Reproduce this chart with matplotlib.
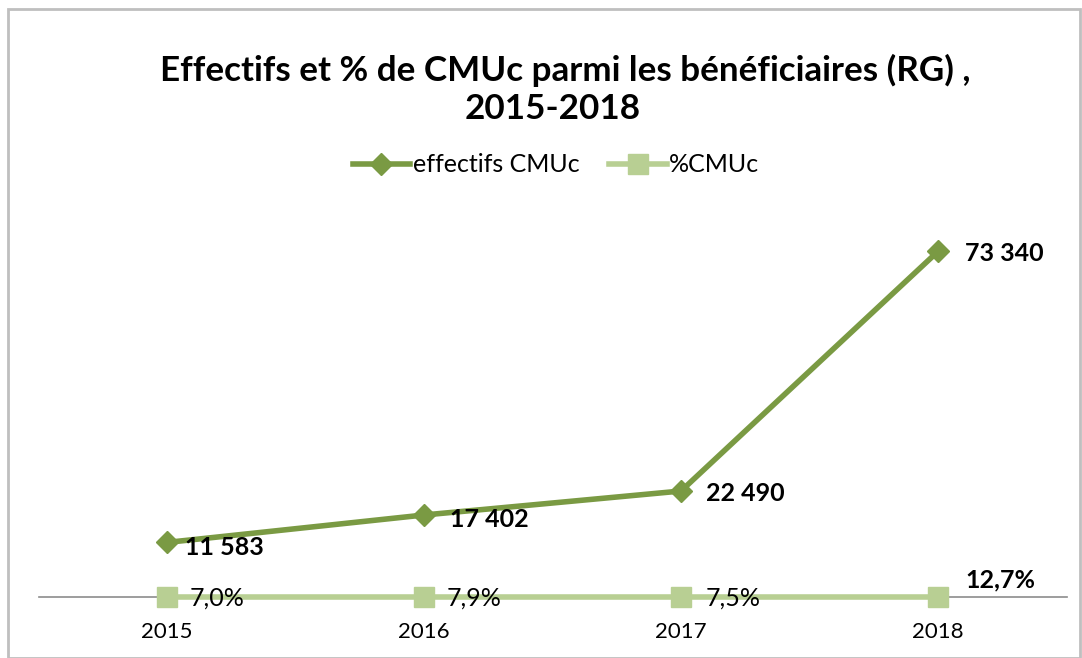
import matplotlib.pyplot as plt
from matplotlib.patches import Rectangle

YEARS = ["2015", "2016", "2017", "2018"]
EFFECTIFS = [11583, 17402, 22490, 73340]
PCT = [7.0, 7.9, 7.5, 12.7]
EFF_LABELS = ["11 583", "17 402", "22 490", "73 340"]
PCT_LABELS = ["7,0%", "7,9%", "7,5%", "12,7%"]

DARK = "#7A9A43"
LIGHT = "#B8CF93"

plt.rcParams["font.family"] = ["Lato", "DejaVu Sans"]

fig = plt.figure(figsize=(10.82, 6.58), dpi=100)
ax = fig.add_axes([38.5 / 1082, 61 / 658, 1028 / 1082, 377 / 658])

x = list(range(len(YEARS)))
# % values are plotted on the same axis as the counts, so they sit on zero
pct_vals = [p / 100 for p in PCT]
ax.plot(x, EFFECTIFS, color=DARK, lw=4, marker="D", ms=11, label="effectifs CMUc",
        zorder=3, clip_on=False)
ax.plot(x, pct_vals, color=LIGHT, lw=4, marker="s", ms=15, label="%CMUc", zorder=2,
        clip_on=False)

eff_off = [(18, -5), (26, -5), (25, -2), (27, -2)]
for xi, v, lab, (dx, dy) in zip(x, EFFECTIFS, EFF_LABELS, eff_off):
    ax.annotate(lab, (xi, v), xytext=(dx, dy), textcoords="offset pixels",
                ha="left", va="center", fontsize=18, fontweight="bold")

pct_off = [(23, -1), (23, -1), (25, -1), (27, 17)]
for i, (xi, v, lab, (dx, dy)) in enumerate(zip(x, pct_vals, PCT_LABELS, pct_off)):
    ax.annotate(lab, (xi, v), xytext=(dx, dy), textcoords="offset pixels",
                ha="left", va="center", fontsize=18,
                fontweight="bold" if i == 3 else "normal")

ax.set_xlim(-0.5, 3.5)
ax.set_ylim(0, 80000)
ax.set_xticks(x, YEARS)
ax.set_yticks([])
ax.tick_params(axis="x", length=0, labelsize=16, pad=18)
for s in ("top", "right", "left"):
    ax.spines[s].set_visible(False)
ax.spines["bottom"].set_color("#8C8C8C")
ax.spines["bottom"].set_linewidth(1.2)
ax.spines["bottom"].set_zorder(1)

fig.text(565 / 1082, 1 - 70 / 658, "Effectifs et % de CMUc parmi les bénéficiaires (RG) ,",
         ha="center", va="center", fontsize=25.2, fontweight="bold")
fig.text(553 / 1082, 1 - 109 / 658, "2015-2018", ha="center", va="center",
         fontsize=25.2, fontweight="bold")

fig.legend(loc="center", bbox_to_anchor=(556 / 1082, 1 - 165 / 658), ncol=2,
           frameon=False, fontsize=18, handlelength=2.3, columnspacing=1.2,
           handletextpad=0.1)

fig.patches.append(Rectangle((8 / 1082, 0), 1072 / 1082, 1 - 9 / 658,
                             transform=fig.transFigure, fill=False,
                             edgecolor="#BFBFBF", lw=2))

fig.savefig("out.png", dpi=100)
